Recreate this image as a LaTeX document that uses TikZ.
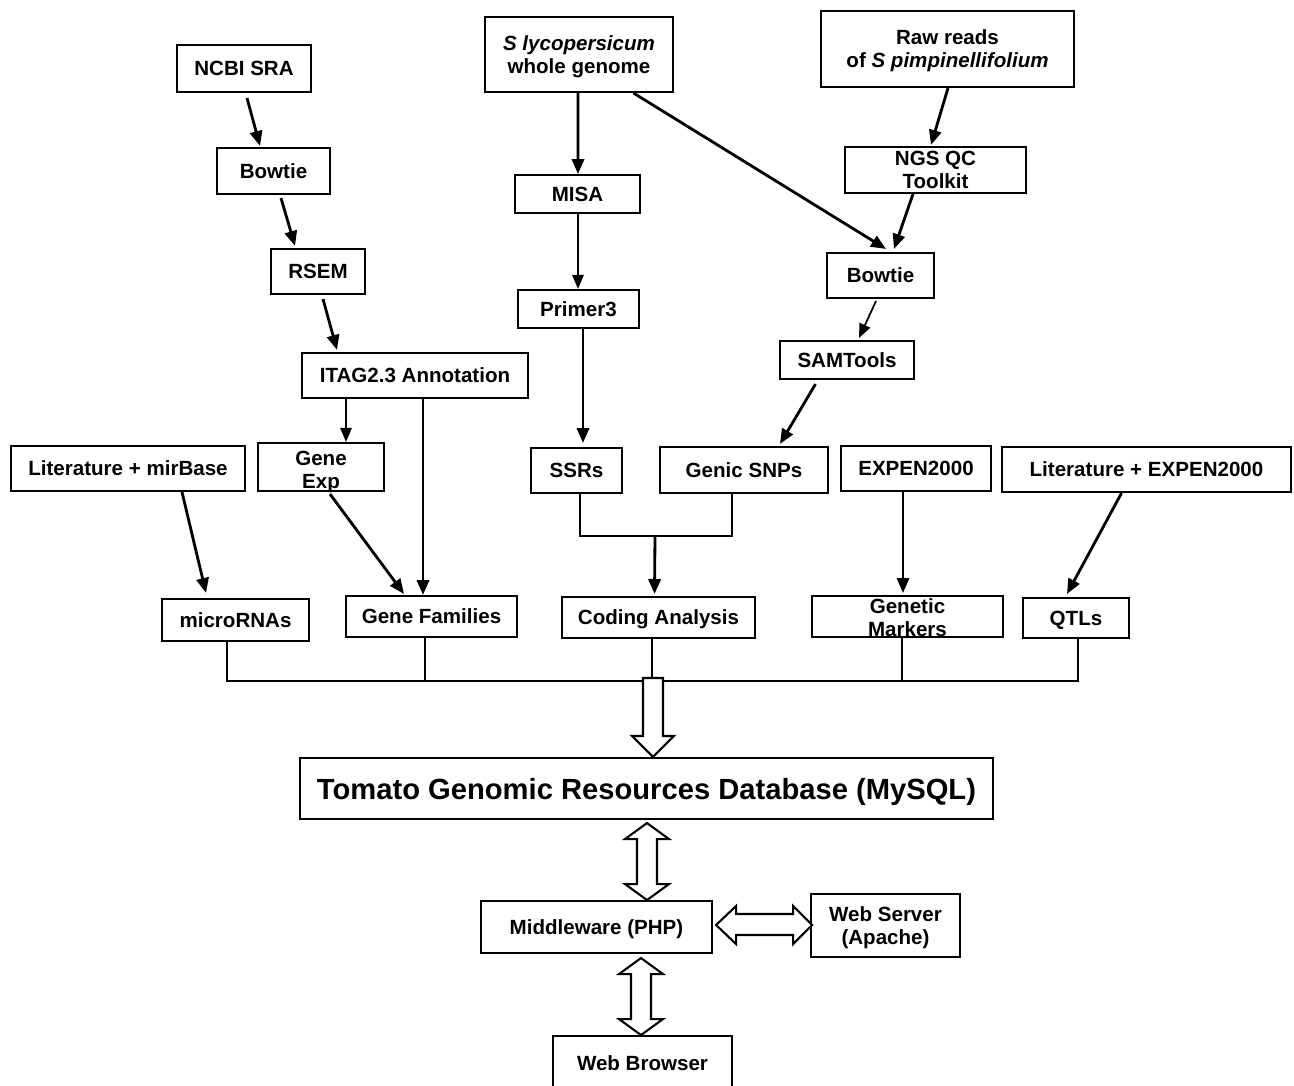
\documentclass[tikz,border=0pt]{standalone}
\usepackage{fontspec}
\setmainfont{Liberation Sans}
\usetikzlibrary{arrows.meta,calc}
\newcommand\bx[6]{\node[box,minimum width={(#4-#2)*0.02cm},minimum height={(#5-#3)*0.02cm}] (#1) at ({(#2+#4)/2},{(#3+#5)/2}) {#6};}
\begin{document}
\begin{tikzpicture}[x=0.02cm,y=-0.02cm,
  txt/.style={font=\bfseries\fontsize{11.7}{13.1}\selectfont},
  box/.style={draw,line width=1.2pt,inner sep=0pt,align=center,text depth=0pt,txt},
  lbl/.style={inner sep=0pt,align=center,text depth=0pt,txt},
  arr/.style={line width=1.6pt,-{Triangle[length=8.5pt,width=7pt]}},
  tarr/.style={line width=1.0pt,-{Triangle[length=8pt,width=6.5pt]}},
  ln/.style={line width=1.6pt},
  hollow/.style={draw,line width=1.2pt,fill=white,line join=miter}]
\useasboundingbox (0,0) rectangle (1294,1085);
\fill[white] (0,0) rectangle (1294,1085);
\clip (0,0) rectangle (1294,1085);
% boxes
\bx{ncbi}{177}{45}{311}{92}{NCBI SRA}
\bx{bow1}{217}{148}{330}{194}{Bowtie}
\bx{rsem}{271}{249}{365}{294}{RSEM}
\bx{itag}{302}{353}{528}{398}{ITAG2.3 Annotation}
\bx{slyc}{485}{17}{673}{92}{\textit{S lycopersicum}\\whole genome}
\bx{raw}{821}{11}{1074}{87}{Raw reads\\of \textit{S pimpinellifolium}}
\bx{misa}{515}{175}{640}{213}{MISA}
\bx{primer}{518}{290}{639}{328}{Primer3}
\bx{ngs}{845}{147}{1026}{193}{NGS QC\\Toolkit}
\bx{bow2}{827}{253}{934}{298}{Bowtie}
\bx{sam}{780}{341}{914}{379}{SAMTools}
\bx{litmir}{11}{446}{245}{491}{Literature + mirBase}
\bx{gexp}{258}{443}{384}{491}{}
\node[lbl] (gexpT) at ($(gexp.center)+(0,3)$) {Gene\\Exp};
\bx{ssr}{531}{448}{622}{493}{SSRs}
\bx{snp}{660}{447}{828}{493}{Genic SNPs}
\bx{expen}{841}{446}{991}{491}{EXPEN2000}
\bx{litexp}{1002}{447}{1291}{492}{Literature + EXPEN2000}
\bx{mirna}{162}{599}{309}{641}{microRNAs}
\bx{gfam}{346}{596}{517}{637}{Gene Families}
\bx{coding}{562}{597}{755}{638}{Coding Analysis}
\bx{gmark}{812}{596}{1003}{637}{}
\node[lbl] (gmarkT) at ($(gmark.center)+(0,1)$) {Genetic\\Markers};
\bx{qtl}{1023}{598}{1129}{638}{QTLs}
\node[draw,line width=1.2pt,inner sep=0pt,text depth=0pt,minimum width={693*0.02cm},minimum height={61*0.02cm},font=\bfseries\fontsize{16.6}{19}\selectfont] (db) at (646.5,788.5) {Tomato Genomic Resources Database (MySQL)};
\bx{mw}{481}{901}{712}{953}{Middleware (PHP)}
\bx{ws}{811}{894}{960}{957}{Web Server\\(Apache)}
\bx{wb}{553}{1036}{732}{1090}{Web Browser}
% connectors
\draw[arr] ($(ncbi.south)+(3,5)$) -- ($(bow1.north)+(-13.5,-1)$);
\draw[arr] ($(bow1.south)+(7.5,3)$) -- ($(rsem.north)+(-23,-2)$);
\draw[arr] ($(rsem.south)+(5,4)$) -- ($(itag.north)+(-78,-2)$);
\draw[tarr] ($(itag.south)+(-69,0)$) -- ($(gexp.north)+(25,0)$);
\draw[arr] ($(itag.south)+(8,0)$) -- ($(gfam.north)+(-8.5,0)$);
\draw[arr] ($(slyc.south)+(-1,0)$) -- ($(misa.north)+(0.5,0)$);
\draw[tarr] ($(misa.south)+(0.5,0)$) -- ($(primer.north)+(-0.5,0)$);
\draw[arr] ($(primer.south)+(4.5,0)$) -- ($(ssr.north)+(6.5,-4)$);
\draw[arr] ($(slyc.south)+(54.5,0)$) -- ($(bow2.north)+(5.5,-3)$);
\draw[arr] ($(raw.south)+(0.5,0)$) -- ($(ngs.north)+(-4.5,-1)$);
\draw[arr] ($(ngs.south)+(-22.5,0)$) -- ($(bow2.north)+(13.5,-3)$);
\draw[tarr] ($(bow2.south)+(-4.5,2)$) -- ($(sam.north)+(12,-2)$);
\draw[arr] ($(sam.south)+(-31.5,4)$) -- ($(snp.north)+(36,-2)$);
\draw[ln] ($(ssr.south)+(3.5,0)$) -- ++(0,42) coordinate (jn) -| ($(snp.south)+(-12,0)$);
\draw[arr] ($(jn)+(75,0)$) -- ($(coding.north)+(-4,-2)$);
\draw[arr] ($(litmir.south)+(54,0)$) -- ($(mirna.north)+(-29.5,-5)$);
\draw[arr] ($(gexp.south)+(9,2)$) -- ($(gfam.north)+(-27.5,-1)$);
\draw[arr,line width=1.3pt] ($(expen.south)+(-13,0)$) -- ($(gmark.north)+(-4.5,-2)$);
\draw[arr] ($(litexp.south)+(-25,0)$) -- ($(qtl.north)+(-9,-3)$);
% bus
\draw[ln] ($(mirna.south)+(-8.5,0)$) -- ++(0,39) -| ($(qtl.south)+(2,0)$);
\draw[ln] ($(gfam.south)+(-6.5,0)$) -- ++(0,43);
\draw[ln] ($(coding.south)+(-6.5,0)$) -- ++(0,42);
\draw[ln] ($(gmark.south)+(-5.5,0)$) -- ++(0,43);
% hollow arrows
\draw[hollow] ($(db.north)+(6.5,0)$) -- ++(21,-21) -- ++(-11,0) -- ++(0,-58) -- ++(-20,0) -- ++(0,58) -- ++(-11,0) -- cycle;
\draw[hollow] ($(db.south)+(0.5,3)$) -- ++(22,16) -- ++(-12,0) -- ++(0,45) -- ++(12,0) -- ++(-22,16) -- ++(-22,-16) -- ++(12,0) -- ++(0,-45) -- ++(-12,0) -- cycle;
\draw[hollow] ($(mw.east)+(3,-2)$) -- ++(20,-19) -- ++(0,8) -- ++(57,0) -- ++(0,-8) -- ++(19,19) -- ++(-19,19) -- ++(0,-9) -- ++(-57,0) -- ++(0,9) -- cycle;
\draw[hollow] ($(mw.south)+(44.5,4)$) -- ++(22,16) -- ++(-12,0) -- ++(0,45) -- ++(12,0) -- ++(-22,16) -- ++(-22,-16) -- ++(12,0) -- ++(0,-45) -- ++(-12,0) -- cycle;
\end{tikzpicture}
\end{document}
